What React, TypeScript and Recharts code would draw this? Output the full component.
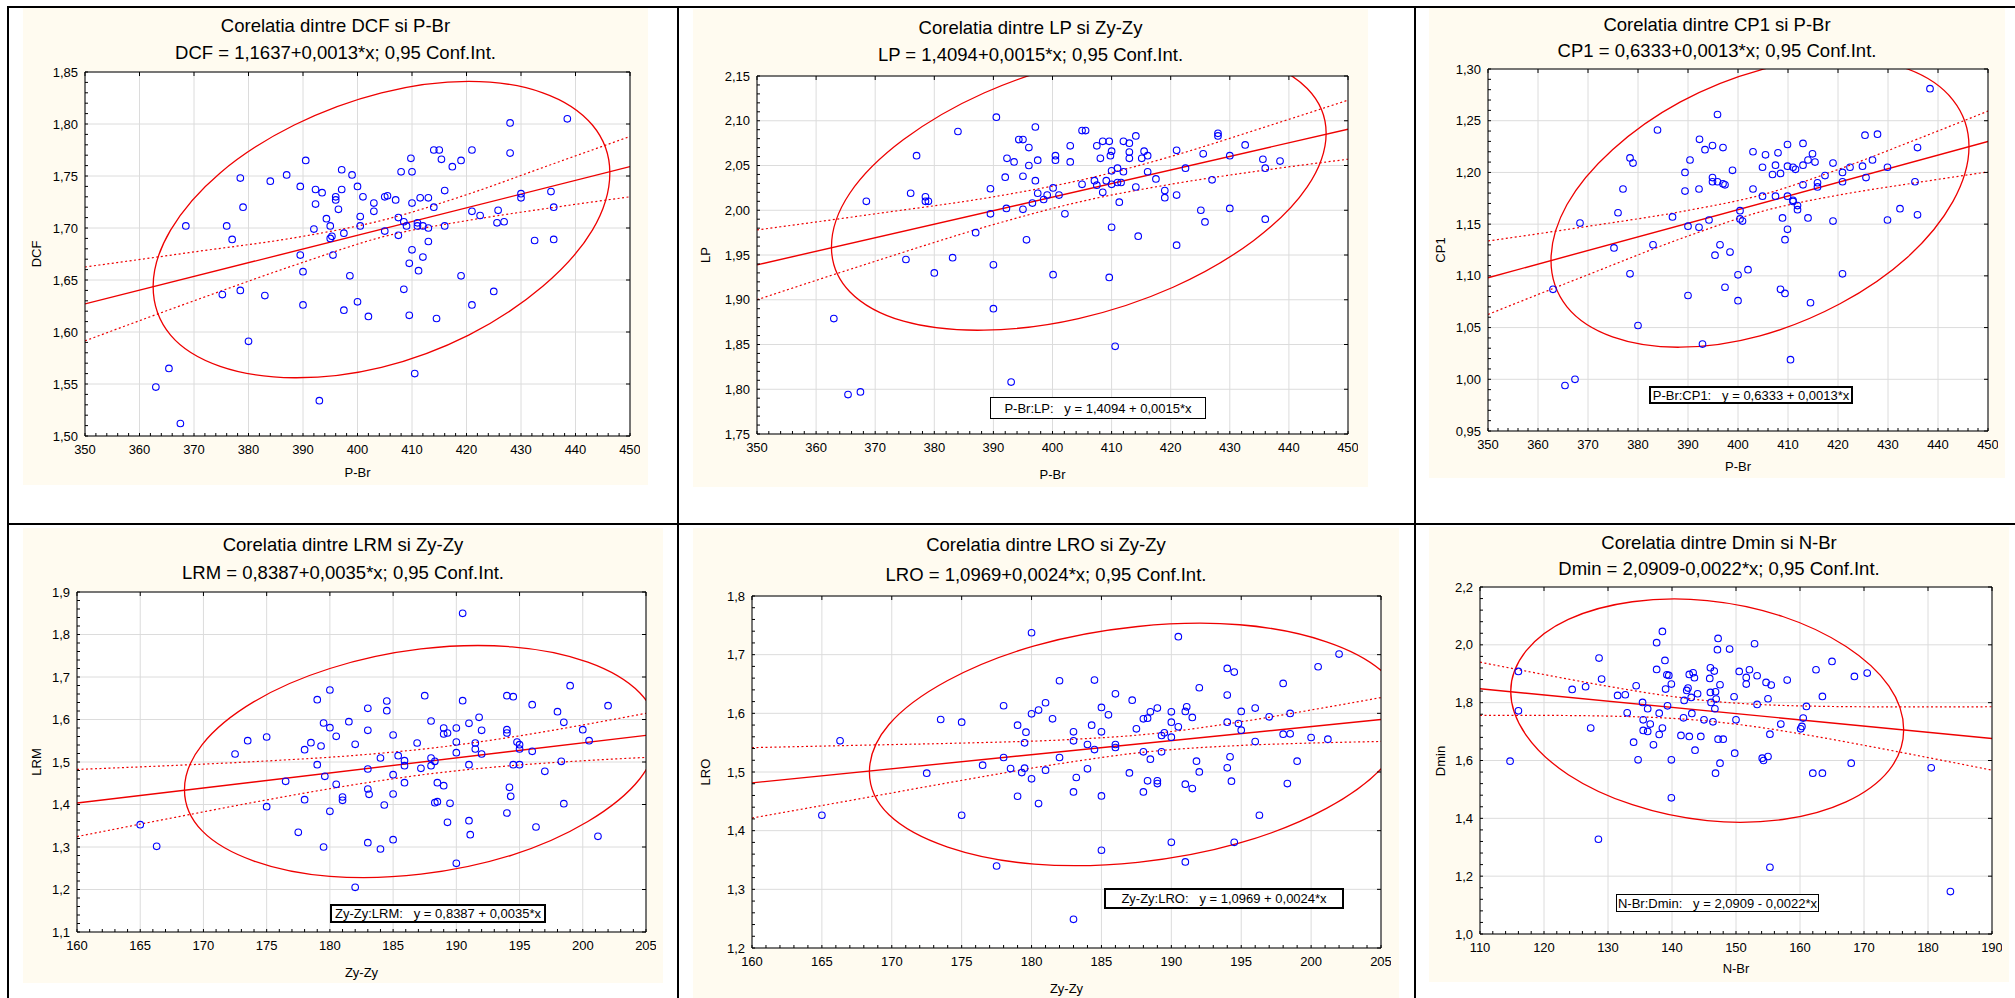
import React from 'react';
import { ComposedChart, XAxis, YAxis, CartesianGrid, Line, Scatter } from 'recharts';

type Pt = [number, number];

// ---- P-Br / DCF ----
const dcfPoints: Pt[] = [
  [363.0, 1.547], [365.4, 1.565], [367.5, 1.512], [368.5, 1.702], [375.2, 1.636], [376.0, 1.702], [377.0, 1.689],
  [378.5, 1.748], [378.5, 1.640], [379.0, 1.720], [380.0, 1.591], [383.0, 1.635], [384.0, 1.745], [387.0, 1.751],
  [389.5, 1.740], [389.5, 1.674], [390.0, 1.658], [390.0, 1.626], [390.5, 1.765], [392.3, 1.737], [392.3, 1.723],
  [392.0, 1.699], [393.5, 1.734], [393.0, 1.534], [394.3, 1.709], [395.0, 1.702], [395.0, 1.690], [395.3, 1.692],
  [395.5, 1.674], [396.0, 1.730], [396.0, 1.727], [396.5, 1.718], [397.1, 1.756], [397.1, 1.737], [397.5, 1.695],
  [397.5, 1.621], [398.6, 1.654], [399.0, 1.751], [400.0, 1.740], [400.0, 1.629], [400.5, 1.711], [400.5, 1.702],
  [401.0, 1.730], [402.0, 1.615], [403.0, 1.724], [403.0, 1.716], [405.0, 1.730], [405.5, 1.731], [405.0, 1.697],
  [407.0, 1.727], [407.5, 1.710], [407.5, 1.693], [408.0, 1.754], [408.5, 1.641], [408.5, 1.706], [409.0, 1.702],
  [409.5, 1.666], [409.5, 1.616], [409.8, 1.767], [410.0, 1.754], [410.0, 1.724], [410.0, 1.679], [410.5, 1.560],
  [411.0, 1.705], [411.0, 1.702], [411.2, 1.659], [411.5, 1.729], [412.0, 1.702], [412.0, 1.672], [413.0, 1.729],
  [413.0, 1.700], [413.0, 1.687], [414.0, 1.775], [414.0, 1.720], [414.5, 1.613], [415.0, 1.775], [415.4, 1.766],
  [416.0, 1.736], [416.0, 1.702], [417.4, 1.759], [419.0, 1.765], [419.0, 1.654], [421.0, 1.775], [421.0, 1.716],
  [421.0, 1.626], [422.5, 1.712], [425.0, 1.639], [425.6, 1.705], [425.8, 1.717], [426.9, 1.706], [428.0, 1.801],
  [428.0, 1.772], [430.0, 1.733], [430.0, 1.729], [432.5, 1.688], [435.5, 1.735], [436.0, 1.720], [436.0, 1.689],
  [438.5, 1.805],
];
const dcfFit: Pt[] = [[350, 1.627], [450, 1.759]];
const dcfUpper: Pt[] = [[350, 1.6625], [370, 1.677], [390, 1.692], [405, 1.708], [420, 1.732], [435, 1.76], [450, 1.788]];
const dcfLower: Pt[] = [[350, 1.5915], [370, 1.63], [390, 1.667], [405, 1.692], [420, 1.707], [435, 1.719], [450, 1.73]];
const dcfEllipse: Pt[] = [
  [446.3, 1.753], [443.1, 1.799], [434.0, 1.830], [420.4, 1.841], [404.4, 1.830], [388.4, 1.799], [374.8, 1.753], [365.7, 1.698],
  [362.5, 1.644], [365.7, 1.597], [374.8, 1.567], [388.4, 1.556], [404.4, 1.566], [420.4, 1.597], [434.0, 1.644], [443.1, 1.698],
];

// ---- P-Br / LP ----
const lpPoints: Pt[] = [
  [363.0, 1.879], [365.4, 1.794], [367.5, 1.797], [368.5, 2.010], [375.2, 1.945], [376.0, 2.019], [377.0, 2.061],
  [378.5, 2.015], [378.5, 2.010], [379.0, 2.010], [380.0, 1.930], [383.1, 1.947], [384.0, 2.088], [387.0, 1.975],
  [389.5, 2.024], [389.5, 1.996], [390.0, 1.939], [390.0, 1.890], [390.5, 2.104], [392.0, 2.037], [392.3, 2.058],
  [392.2, 2.002], [393.5, 2.054], [393.0, 1.808], [394.3, 2.079], [395.0, 2.079], [395.0, 2.038], [395.0, 2.001],
  [395.6, 1.967], [396.0, 2.070], [396.0, 2.050], [396.6, 2.008], [397.1, 2.093], [397.1, 2.033], [397.5, 2.056],
  [397.5, 2.019], [398.5, 2.012], [399.1, 2.017], [400.1, 2.025], [400.5, 2.061], [400.5, 2.056], [400.1, 1.928],
  [401.1, 2.017], [402.1, 1.996], [403.0, 2.072], [403.0, 2.054], [405.0, 2.089], [405.6, 2.089], [405.0, 2.029],
  [407.1, 2.033], [407.5, 2.072], [407.5, 2.028], [408.1, 2.058], [408.5, 2.077], [408.5, 2.020], [409.1, 2.033],
  [409.6, 2.077], [409.6, 1.925], [409.8, 2.061], [410.0, 2.066], [410.0, 2.044], [410.0, 2.029], [410.0, 1.981],
  [410.6, 1.848], [411.0, 2.047], [411.0, 2.031], [411.3, 2.009], [411.6, 2.031], [412.0, 2.077], [412.0, 2.043],
  [413.0, 2.075], [413.0, 2.065], [413.0, 2.058], [414.1, 2.083], [414.1, 2.026], [414.5, 1.971], [415.1, 2.058],
  [415.5, 2.066], [416.1, 2.061], [416.1, 2.043], [417.5, 2.035], [419.0, 2.022], [419.0, 2.014], [421.0, 2.067],
  [421.0, 2.017], [421.0, 1.961], [422.5, 2.047], [425.1, 2.000], [425.5, 2.063], [425.8, 1.987], [427.0, 2.034],
  [428.0, 2.086], [428.0, 2.083], [430.0, 2.061], [430.0, 2.002], [432.6, 2.073], [435.6, 2.057], [436.0, 2.047],
  [436.0, 1.990], [438.5, 2.055],
];
const lpFit: Pt[] = [[350, 1.939], [450, 2.0905]];
const lpUpper: Pt[] = [[350, 1.978], [370, 1.996], [390, 2.015], [405, 2.034], [420, 2.06], [435, 2.091], [450, 2.123]];
const lpLower: Pt[] = [[350, 1.9], [370, 1.943], [390, 1.984], [405, 2.01], [420, 2.029], [435, 2.044], [450, 2.057]];
const lpEllipse: Pt[] = [
  [446.3, 2.086], [443.1, 2.136], [434.0, 2.169], [420.4, 2.180], [404.4, 2.166], [388.4, 2.131], [374.8, 2.079], [365.7, 2.019],
  [362.6, 1.959], [365.7, 1.909], [374.8, 1.876], [388.4, 1.866], [404.4, 1.879], [420.4, 1.914], [434.0, 1.966], [443.1, 2.026],
];

// ---- P-Br / CP1 ----
const cp1Points: Pt[] = [
  [363.0, 1.087], [365.4, 0.994], [367.4, 1.000], [368.4, 1.151], [375.2, 1.127], [376.0, 1.161], [377.0, 1.184],
  [378.4, 1.214], [378.4, 1.102], [379.0, 1.209], [380.0, 1.052], [383.0, 1.130], [383.9, 1.241], [386.9, 1.157],
  [389.4, 1.200], [389.4, 1.182], [390.0, 1.148], [390.0, 1.081], [390.4, 1.212], [392.2, 1.184], [392.2, 1.147],
  [392.3, 1.232], [393.4, 1.222], [392.9, 1.034], [394.2, 1.154], [394.9, 1.226], [394.9, 1.195], [394.9, 1.191],
  [395.4, 1.120], [395.9, 1.256], [395.9, 1.191], [396.4, 1.130], [397.0, 1.224], [397.0, 1.189], [397.4, 1.188],
  [397.4, 1.089], [398.4, 1.123], [398.9, 1.202], [400.0, 1.101], [400.0, 1.076], [400.4, 1.163], [400.4, 1.155],
  [400.9, 1.153], [402.0, 1.106], [403.0, 1.220], [403.0, 1.184], [404.9, 1.205], [404.9, 1.177], [405.5, 1.217],
  [406.9, 1.198], [407.5, 1.207], [407.5, 1.177], [408.0, 1.219], [408.5, 1.199], [408.5, 1.087], [408.9, 1.156],
  [409.4, 1.135], [409.4, 1.083], [409.9, 1.227], [409.9, 1.206], [409.9, 1.177], [409.9, 1.145], [410.5, 1.019],
  [411.0, 1.205], [411.0, 1.173], [411.0, 1.172], [411.5, 1.203], [411.9, 1.168], [411.9, 1.164], [413.0, 1.228],
  [413.0, 1.207], [413.0, 1.188], [414.0, 1.212], [414.0, 1.156], [414.5, 1.074], [414.9, 1.218], [415.4, 1.210],
  [415.9, 1.190], [415.9, 1.186], [417.4, 1.197], [419.0, 1.209], [419.0, 1.153], [420.9, 1.200], [420.9, 1.191],
  [420.9, 1.102], [422.4, 1.205], [424.9, 1.206], [425.4, 1.236], [425.6, 1.195], [426.9, 1.212], [427.9, 1.237],
  [429.9, 1.205], [429.9, 1.154], [432.4, 1.165], [435.4, 1.191], [435.9, 1.224], [435.9, 1.159], [438.4, 1.281],
];
const cp1Fit: Pt[] = [[350, 1.0982], [450, 1.2299]];
const cp1Upper: Pt[] = [[350, 1.1337], [370, 1.1479], [390, 1.1633], [405, 1.1786], [420, 1.2028], [435, 1.2306], [450, 1.2593]];
const cp1Lower: Pt[] = [[350, 1.0627], [370, 1.1011], [390, 1.1385], [405, 1.1626], [420, 1.178], [435, 1.1896], [450, 1.2005]];
const cp1Ellipse: Pt[] = [
  [446.2, 1.225], [443.0, 1.270], [433.9, 1.300], [420.4, 1.310], [404.4, 1.299], [388.4, 1.268], [374.9, 1.222], [365.8, 1.169],
  [362.6, 1.115], [365.8, 1.070], [374.9, 1.041], [388.4, 1.031], [404.4, 1.042], [420.4, 1.073], [433.9, 1.118], [443.0, 1.172],
];

// ---- Zy-Zy / LRM ----
const lrmPoints: Pt[] = [
  [165.0, 1.3525], [166.3, 1.3016], [172.5, 1.5188], [173.5, 1.5502], [175.0, 1.5588], [175.0, 1.3949], [176.5, 1.4545],
  [177.5, 1.3345], [178.0, 1.529], [178.0, 1.4114], [178.5, 1.5455], [179.0, 1.6467], [179.0, 1.4937], [179.3, 1.5376],
  [179.5, 1.5918], [179.5, 1.3], [179.6, 1.4663], [180.0, 1.6694], [180.0, 1.5808], [180.0, 1.3839], [180.5, 1.5604],
  [180.5, 1.4475], [181.0, 1.4176], [181.0, 1.4098], [181.5, 1.5949], [182.0, 1.5416], [182.0, 1.2051], [183.0, 1.6263],
  [183.0, 1.5745], [183.0, 1.4835], [183.0, 1.4365], [183.1, 1.4239], [183.0, 1.3102], [184.0, 1.5094], [184.0, 1.2953],
  [184.3, 1.3988], [184.5, 1.6435], [184.5, 1.6208], [185.0, 1.5635], [185.0, 1.4702], [185.0, 1.4247], [185.0, 1.3173],
  [185.4, 1.5149], [185.9, 1.5031], [185.9, 1.4914], [185.9, 1.4514], [186.9, 1.5447], [187.2, 1.4851], [187.5, 1.6561],
  [188.0, 1.5965], [188.0, 1.5094], [188.0, 1.4914], [188.3, 1.5016], [188.3, 1.4043], [188.5, 1.4067], [188.5, 1.4514],
  [189.0, 1.58], [189.0, 1.5659], [189.0, 1.4443], [189.3, 1.5682], [189.3, 1.358], [189.5, 1.4027], [190.0, 1.58],
  [190.0, 1.5471], [190.0, 1.522], [190.0, 1.2616], [190.5, 1.8498], [190.5, 1.6443], [191.0, 1.591], [191.0, 1.4937],
  [191.0, 1.362], [191.1, 1.329], [191.5, 1.5447], [191.5, 1.5306], [191.8, 1.6051], [192.0, 1.5745], [192.0, 1.5188],
  [194.0, 1.6561], [194.0, 1.5761], [194.0, 1.5682], [194.0, 1.38], [194.2, 1.4404], [194.3, 1.4192], [194.5, 1.6537],
  [194.5, 1.4937], [194.8, 1.5471], [195.0, 1.5306], [195.0, 1.4937], [195.0, 1.5408], [196.0, 1.6349], [196.0, 1.5251],
  [196.3, 1.3471], [197.0, 1.478], [198.0, 1.6184], [198.3, 1.5016], [198.5, 1.5933], [198.5, 1.402], [199.0, 1.6796],
  [200.0, 1.5761], [200.5, 1.5502], [201.2, 1.3251], [202.0, 1.6325],
];
const lrmFit: Pt[] = [[160, 1.4035], [205, 1.5627]];
const lrmUpper: Pt[] = [[160, 1.4825], [167.5, 1.4917], [175, 1.5024], [182, 1.5156], [188.5, 1.5343], [195, 1.5616], [200, 1.5871], [205, 1.6146]];
const lrmLower: Pt[] = [[160, 1.3245], [167.5, 1.3683], [175, 1.4108], [182, 1.447], [188.5, 1.4743], [195, 1.493], [200, 1.5029], [205, 1.5108]];
const lrmEllipse: Pt[] = [
  [205.9, 1.567], [204.5, 1.663], [200.4, 1.735], [194.4, 1.771], [187.2, 1.766], [180.0, 1.720], [174.0, 1.642], [169.9, 1.541],
  [168.5, 1.435], [169.9, 1.338], [174.0, 1.267], [180.0, 1.231], [187.2, 1.236], [194.4, 1.281], [200.4, 1.360], [204.5, 1.460],
];

// ---- Zy-Zy / LRO ----
const lroPoints: Pt[] = [
  [165.0, 1.4263], [166.3, 1.5531], [172.5, 1.498], [173.5, 1.5895], [175.0, 1.585], [175.0, 1.4263], [176.5, 1.5116],
  [177.5, 1.3398], [178.0, 1.6129], [178.0, 1.5247], [178.5, 1.5059], [179.0, 1.5799], [179.0, 1.4587], [179.3, 1.4991],
  [179.5, 1.5065], [179.5, 1.5497], [179.6, 1.5679], [180.0, 1.7374], [180.0, 1.5992], [180.0, 1.4883], [180.5, 1.6055],
  [180.5, 1.4462], [181.0, 1.618], [181.0, 1.5031], [181.5, 1.5907], [182.0, 1.6555], [182.0, 1.5247], [183.0, 1.5685],
  [183.0, 1.5531], [183.0, 1.4661], [183.0, 1.2488], [183.2, 1.4906], [184.0, 1.5469], [184.0, 1.5054], [184.3, 1.5799],
  [184.5, 1.6567], [184.5, 1.5383], [185.0, 1.61], [185.0, 1.5685], [185.0, 1.4593], [185.0, 1.3666], [185.5, 1.5975],
  [186.0, 1.6333], [186.0, 1.5469], [186.0, 1.5418], [187.0, 1.4985], [187.2, 1.6225], [187.5, 1.5736], [188.0, 1.5907],
  [188.0, 1.5344], [188.0, 1.4661], [188.3, 1.5918], [188.3, 1.4849], [188.5, 1.6026], [188.5, 1.5218], [189.0, 1.6089],
  [189.0, 1.4849], [189.0, 1.4803], [189.3, 1.5622], [189.3, 1.5344], [189.5, 1.5668], [190.0, 1.6026], [190.0, 1.585],
  [190.0, 1.5594], [190.0, 1.3802], [190.5, 1.7306], [190.5, 1.577], [191.0, 1.6032], [191.1, 1.6111], [191.0, 1.4792],
  [191.0, 1.3467], [191.5, 1.593], [191.5, 1.4718], [191.8, 1.5184], [192.0, 1.6436], [192.0, 1.5002], [194.0, 1.6766],
  [194.0, 1.6311], [194.0, 1.585], [194.0, 1.5071], [194.2, 1.5258], [194.3, 1.4843], [194.5, 1.6703], [194.5, 1.3802],
  [194.8, 1.5827], [195.0, 1.6032], [195.0, 1.5713], [196.0, 1.6089], [196.0, 1.552], [196.3, 1.4263], [197.0, 1.5941],
  [198.0, 1.651], [198.0, 1.5645], [198.3, 1.4803], [198.5, 1.5998], [198.5, 1.5651], [199.0, 1.5184], [200.0, 1.5588],
  [200.5, 1.6794], [201.2, 1.556], [202.0, 1.701],
];
const lroFit: Pt[] = [[160, 1.4815], [205, 1.5895]];
const lroUpper: Pt[] = [[160, 1.5415], [167.5, 1.5455], [175, 1.5493], [182, 1.5545], [188.5, 1.5649], [195, 1.5857], [200, 1.6057], [205, 1.6269]];
const lroLower: Pt[] = [[160, 1.4215], [167.5, 1.4535], [175, 1.4857], [182, 1.5141], [188.5, 1.5349], [195, 1.5453], [200, 1.5493], [205, 1.5521]];
const lroEllipse: Pt[] = [
  [206.8, 1.594], [205.3, 1.667], [201.1, 1.722], [194.9, 1.751], [187.6, 1.748], [180.2, 1.715], [174.0, 1.656], [169.8, 1.581],
  [168.4, 1.500], [169.8, 1.427], [174.0, 1.372], [180.2, 1.343], [187.6, 1.346], [194.9, 1.379], [201.1, 1.438], [205.3, 1.513],
];

// ---- N-Br / Dmin ----
const dminPoints: Pt[] = [
  [114.7, 1.5977], [116.0, 1.9081], [116.0, 1.7719], [124.4, 1.8458], [126.5, 1.855], [127.3, 1.712], [128.5, 1.3277],
  [128.6, 1.9542], [129.0, 1.8815], [131.5, 1.825], [132.7, 1.8273], [133.0, 1.765], [134.0, 1.6635], [134.4, 1.8585],
  [134.7, 1.6023], [135.4, 1.8008], [135.5, 1.7408], [135.5, 1.7039], [136.2, 1.7004], [136.2, 1.7789], [136.6, 1.7258],
  [137.1, 1.6543], [137.6, 2.0073], [137.6, 1.915], [138.0, 1.7638], [138.0, 1.69], [138.5, 2.0465], [138.5, 1.712],
  [138.9, 1.9462], [139.0, 1.8469], [139.2, 1.8965], [139.3, 1.7892], [139.5, 1.8942], [139.9, 1.8642], [139.9, 1.6023],
  [139.9, 1.4708], [141.4, 1.6866], [141.8, 1.7477], [141.9, 1.8077], [142.3, 1.8423], [142.5, 1.8504], [142.7, 1.8977],
  [142.7, 1.6831], [143.0, 1.8181], [143.1, 1.7627], [143.3, 1.9035], [143.5, 1.8862], [143.6, 1.6358], [144.0, 1.8308],
  [144.5, 1.6831], [145.0, 1.7408], [145.9, 1.8838], [146.0, 1.9208], [146.0, 1.8354], [146.1, 1.8008], [146.4, 1.7338],
  [146.6, 1.9092], [146.7, 1.7789], [146.9, 1.8123], [146.8, 1.8377], [146.8, 1.5562], [147.1, 1.9831], [147.2, 2.0223],
  [147.2, 1.6739], [147.5, 1.8619], [147.5, 1.5908], [148.0, 1.6739], [149.0, 1.9854], [149.7, 1.8204], [149.8, 1.6254],
  [150.0, 1.7408], [150.5, 1.9081], [151.6, 1.8873], [151.6, 1.8642], [152.1, 1.9139], [152.9, 2.0038], [153.3, 1.7938],
  [153.3, 1.8931], [154.1, 1.6081], [154.3, 1.6], [154.7, 1.87], [155.0, 1.8135], [155.0, 1.6139], [155.3, 1.6912],
  [155.3, 1.2308], [155.5, 1.8608], [157.0, 1.7258], [158.0, 1.8781], [160.1, 1.7096], [160.3, 1.7177], [160.5, 1.7466],
  [161.0, 1.7869], [162.0, 1.5562], [162.5, 1.9139], [163.5, 1.8215], [163.5, 1.5562], [165.0, 1.9427], [168.0, 1.5908],
  [168.5, 1.8908], [170.5, 1.9023], [180.5, 1.5746], [183.5, 1.1466],
];
const dminFit: Pt[] = [[110, 1.8481], [190, 1.6762]];
const dminUpper: Pt[] = [[110, 1.94], [120, 1.8973], [130, 1.8566], [138, 1.8277], [146, 1.8057], [154, 1.7933], [162, 1.7879], [170, 1.7858], [180, 1.7853], [190, 1.7859]];
const dminLower: Pt[] = [[110, 1.756], [120, 1.7559], [130, 1.7536], [138, 1.7481], [146, 1.7357], [154, 1.7137], [162, 1.6849], [170, 1.6526], [180, 1.6101], [190, 1.5665]];
const dminEllipse: Pt[] = [
  [176.2, 1.706], [173.9, 1.857], [167.2, 1.994], [157.3, 2.098], [145.5, 2.153], [133.8, 2.149], [123.8, 2.088], [117.2, 1.979],
  [114.8, 1.839], [117.2, 1.688], [123.8, 1.551], [133.8, 1.447], [145.5, 1.392], [157.3, 1.396], [167.2, 1.457], [173.9, 1.566],
];

// tick labels
const pBrTicks = [350, 360, 370, 380, 390, 400, 410, 420, 430, 440, 450];
const zyTicks = [160, 165, 170, 175, 180, 185, 190, 195, 200, 205];
const nBrTicks = [110, 120, 130, 140, 150, 160, 170, 180, 190];
const dcfTicks = [1.5, 1.55, 1.6, 1.65, 1.7, 1.75, 1.8, 1.85];
const lpTicks = [1.75, 1.8, 1.85, 1.9, 1.95, 2.0, 2.05, 2.1, 2.15];
const cp1Ticks = [0.95, 1.0, 1.05, 1.1, 1.15, 1.2, 1.25, 1.3];
const lrmTicks = [1.1, 1.2, 1.3, 1.4, 1.5, 1.6, 1.7, 1.8, 1.9];
const lroTicks = [1.2, 1.3, 1.4, 1.5, 1.6, 1.7, 1.8];
const dminTicks = [1.0, 1.2, 1.4, 1.6, 1.8, 2.0, 2.2];

const FONT = '"Liberation Sans", Arial, Helvetica, sans-serif';
const RED = '#ee0000';
const BLUE = '#0000ff';
const CREAM = '#fffbf0';

type Rect = { left: number; top: number; right: number; bottom: number };
interface PanelCfg {
  title: string; subtitle: string; xLabel: string; yLabel: string;
  points: Pt[]; fit: Pt[]; upper: Pt[]; lower: Pt[]; ellipse: Pt[];
  xTicks: number[]; yTicks: number[]; yDigits: number;
  box: Rect; plot: Rect; titleY: number; subY: number; xLabelY: number; yLabelX: number;
  legend?: { text: string; rect: Rect; border: number };
}

const panels: PanelCfg[] = [
  {
    title: 'Corelatia dintre DCF si P-Br', subtitle: 'DCF = 1,1637+0,0013*x; 0,95 Conf.Int.', xLabel: 'P-Br', yLabel: 'DCF',
    points: dcfPoints, fit: dcfFit, upper: dcfUpper, lower: dcfLower, ellipse: dcfEllipse,
    xTicks: pBrTicks, yTicks: dcfTicks, yDigits: 2,
    box: { left: 23, top: 8, right: 648, bottom: 485 }, plot: { left: 85, top: 72, right: 630, bottom: 436 },
    titleY: 26, subY: 53, xLabelY: 473, yLabelX: 37,
  },
  {
    title: 'Corelatia dintre LP si Zy-Zy', subtitle: 'LP = 1,4094+0,0015*x; 0,95 Conf.Int.', xLabel: 'P-Br', yLabel: 'LP',
    points: lpPoints, fit: lpFit, upper: lpUpper, lower: lpLower, ellipse: lpEllipse,
    xTicks: pBrTicks, yTicks: lpTicks, yDigits: 2,
    box: { left: 693, top: 9, right: 1368, bottom: 487 }, plot: { left: 757, top: 76, right: 1348, bottom: 434 },
    titleY: 28, subY: 55, xLabelY: 475, yLabelX: 706,
    legend: { text: 'P-Br:LP:   y = 1,4094 + 0,0015*x', rect: { left: 990, top: 397, right: 1206, bottom: 419 }, border: 1 },
  },
  {
    title: 'Corelatia dintre CP1 si P-Br', subtitle: 'CP1 = 0,6333+0,0013*x; 0,95 Conf.Int.', xLabel: 'P-Br', yLabel: 'CP1',
    points: cp1Points, fit: cp1Fit, upper: cp1Upper, lower: cp1Lower, ellipse: cp1Ellipse,
    xTicks: pBrTicks, yTicks: cp1Ticks, yDigits: 2,
    box: { left: 1429, top: 8, right: 2005, bottom: 478 }, plot: { left: 1488, top: 69, right: 1988, bottom: 431 },
    titleY: 25, subY: 51, xLabelY: 467, yLabelX: 1441,
    legend: { text: 'P-Br:CP1:   y = 0,6333 + 0,0013*x', rect: { left: 1649, top: 386, right: 1853, bottom: 404 }, border: 2 },
  },
  {
    title: 'Corelatia dintre LRM si Zy-Zy', subtitle: 'LRM = 0,8387+0,0035*x; 0,95 Conf.Int.', xLabel: 'Zy-Zy', yLabel: 'LRM',
    points: lrmPoints, fit: lrmFit, upper: lrmUpper, lower: lrmLower, ellipse: lrmEllipse,
    xTicks: zyTicks, yTicks: lrmTicks, yDigits: 1,
    box: { left: 23, top: 528, right: 663, bottom: 983 }, plot: { left: 77, top: 592, right: 646, bottom: 932 },
    titleY: 545, subY: 573, xLabelY: 973, yLabelX: 37,
    legend: { text: 'Zy-Zy:LRM:   y = 0,8387 + 0,0035*x', rect: { left: 330, top: 904, right: 546, bottom: 923 }, border: 2 },
  },
  {
    title: 'Corelatia dintre LRO si Zy-Zy', subtitle: 'LRO = 1,0969+0,0024*x; 0,95 Conf.Int.', xLabel: 'Zy-Zy', yLabel: 'LRO',
    points: lroPoints, fit: lroFit, upper: lroUpper, lower: lroLower, ellipse: lroEllipse,
    xTicks: zyTicks, yTicks: lroTicks, yDigits: 1,
    box: { left: 693, top: 528, right: 1399, bottom: 998 }, plot: { left: 752, top: 596, right: 1381, bottom: 948 },
    titleY: 545, subY: 575, xLabelY: 989, yLabelX: 706,
    legend: { text: 'Zy-Zy:LRO:   y = 1,0969 + 0,0024*x', rect: { left: 1104, top: 888, right: 1344, bottom: 909 }, border: 2 },
  },
  {
    title: 'Corelatia dintre Dmin si N-Br', subtitle: 'Dmin = 2,0909-0,0022*x; 0,95 Conf.Int.', xLabel: 'N-Br', yLabel: 'Dmin',
    points: dminPoints, fit: dminFit, upper: dminUpper, lower: dminLower, ellipse: dminEllipse,
    xTicks: nBrTicks, yTicks: dminTicks, yDigits: 1,
    box: { left: 1429, top: 527, right: 2009, bottom: 982 }, plot: { left: 1480, top: 587, right: 1992, bottom: 934 },
    titleY: 543, subY: 569, xLabelY: 969, yLabelX: 1441,
    legend: { text: 'N-Br:Dmin:   y = 2,0909 - 0,0022*x', rect: { left: 1616, top: 894, right: 1819, bottom: 912 }, border: 1 },
  },
];

const rows = (pts: Pt[]) => pts.map(([x, y]) => ({ x, y }));

// minor tick positions: each major interval split in 5
const withMinor = (ticks: number[], parts = 5) => {
  const out: number[] = [];
  for (let i = 0; i < ticks.length - 1; i++) {
    for (let k = 0; k < parts; k++) out.push(+(ticks[i] + ((ticks[i + 1] - ticks[i]) * k) / parts).toFixed(6));
  }
  out.push(ticks[ticks.length - 1]);
  return out;
};
const isMajor = (list: number[], v: number) => list.some((m) => Math.abs(m - v) < 1e-6);

// closed Catmull-Rom curve for the ellipses
const closedCurve = (context: any) => {
  let pts: number[][] = [];
  return {
    areaStart() {},
    areaEnd() {},
    lineStart() { pts = []; },
    point(x: number, y: number) { pts.push([+x, +y]); },
    lineEnd() {
      const n = pts.length;
      if (n < 3) return;
      context.moveTo(pts[0][0], pts[0][1]);
      for (let i = 0; i < n; i++) {
        const p0 = pts[(i + n - 1) % n], p1 = pts[i], p2 = pts[(i + 1) % n], p3 = pts[(i + 2) % n];
        context.bezierCurveTo(
          p1[0] + (p2[0] - p0[0]) / 6, p1[1] + (p2[1] - p0[1]) / 6,
          p2[0] - (p3[0] - p1[0]) / 6, p2[1] - (p3[1] - p1[1]) / 6,
          p2[0], p2[1],
        );
      }
      context.closePath();
    },
  };
};

const Ring = (p: any) => <circle cx={p.cx} cy={p.cy} r={3.3} fill="none" stroke={BLUE} strokeWidth={1.1} />;

const abs = (r: Rect): React.CSSProperties => ({
  position: 'absolute', left: r.left, top: r.top, width: r.right - r.left, height: r.bottom - r.top,
});

const Panel = ({ c }: { c: PanelCfg }) => {
  const L = 60, T = 10, R = 10, B = 30;
  const pw = c.plot.right - c.plot.left;
  const ph = c.plot.bottom - c.plot.top;
  const xDom: [number, number] = [c.xTicks[0], c.xTicks[c.xTicks.length - 1]];
  const yDom: [number, number] = [c.yTicks[0], c.yTicks[c.yTicks.length - 1]];
  const tickStyle = { fontSize: 13, fill: '#000', fontFamily: FONT };
  const cx = (c.box.left + c.box.right) / 2;
  const plotCx = (c.plot.left + c.plot.right) / 2;
  const plotCy = (c.plot.top + c.plot.bottom) / 2;
  const textLine = (y: number, x: number, size: number): React.CSSProperties => ({
    position: 'absolute', left: x - 300, width: 600, top: y - 11, height: 22, lineHeight: '22px',
    textAlign: 'center', fontSize: size, fontFamily: FONT, color: '#000', whiteSpace: 'nowrap',
  });
  const lineProps = { xAxisId: 'b', yAxisId: 'l', dataKey: 'y', dot: false, activeDot: false, isAnimationActive: false, stroke: RED };

  return (
    <>
      <div style={{ ...abs(c.box), background: CREAM }} />
      <div style={textLine(c.titleY, cx, 18.5)}>{c.title}</div>
      <div style={textLine(c.subY, cx, 18.5)}>{c.subtitle}</div>
      <div style={textLine(c.xLabelY, plotCx, 13)}>{c.xLabel}</div>
      <div style={{ ...textLine(plotCy, c.yLabelX, 13), transform: 'rotate(-90deg)' }}>{c.yLabel}</div>
      <div style={{ position: 'absolute', left: c.plot.left - L, top: c.plot.top - T }}>
        <ComposedChart width={pw + L + R} height={ph + T + B} margin={{ top: 9, right: 9, bottom: 0, left: 0 }}>
          <CartesianGrid xAxisId="t" yAxisId="r" stroke="#dcdcdc" fill="#ffffff" />
          <XAxis
            xAxisId="b" dataKey="x" type="number" domain={xDom} ticks={withMinor(c.xTicks)} interval={0}
            allowDataOverflow height={B} tickSize={-3} tickMargin={12} stroke="#000" tick={tickStyle}
            tickFormatter={(v: number) => (isMajor(c.xTicks, v) ? String(v) : '')}
          />
          <XAxis
            xAxisId="t" orientation="top" dataKey="x" type="number" domain={xDom} ticks={c.xTicks} interval={0}
            allowDataOverflow height={1} tickSize={-4} stroke="#000" tickFormatter={() => ''}
          />
          <YAxis
            yAxisId="l" dataKey="y" type="number" domain={yDom} ticks={withMinor(c.yTicks)} interval={0}
            allowDataOverflow width={L} tickSize={-3} tickMargin={10} stroke="#000" tick={tickStyle}
            tickFormatter={(v: number) => (isMajor(c.yTicks, v) ? v.toFixed(c.yDigits).replace('.', ',') : '')}
          />
          <YAxis
            yAxisId="r" orientation="right" dataKey="y" type="number" domain={yDom} ticks={c.yTicks} interval={0}
            allowDataOverflow width={1} tickSize={-4} stroke="#000" tickFormatter={() => ''}
          />
          <Line {...lineProps} data={rows(c.ellipse)} type={closedCurve as any} strokeWidth={1.3} />
          <Line {...lineProps} data={rows(c.upper)} type="monotone" strokeWidth={1.2} strokeDasharray="2 2.5" />
          <Line {...lineProps} data={rows(c.lower)} type="monotone" strokeWidth={1.2} strokeDasharray="2 2.5" />
          <Line {...lineProps} data={rows(c.fit)} type="linear" strokeWidth={1.4} />
          <Scatter xAxisId="b" yAxisId="l" data={rows(c.points)} dataKey="y" shape={Ring} isAnimationActive={false} />
        </ComposedChart>
      </div>
      {c.legend && (
        <div
          style={{
            ...abs(c.legend.rect), boxSizing: 'border-box', border: `${c.legend.border}px solid #000`, background: '#fff',
            fontSize: 13, fontFamily: FONT, color: '#000', whiteSpace: 'pre', display: 'flex',
            alignItems: 'center', justifyContent: 'center',
          }}
        >
          {c.legend.text}
        </div>
      )}
    </>
  );
};

export default function App() {
  const bar = (left: number, top: number, width: number, height: number) => (
    <div style={{ position: 'absolute', left, top, width, height, background: '#000' }} />
  );
  return (
    <div style={{ position: 'absolute', left: 0, top: 0, width: 2015, height: 998, background: '#fff', overflow: 'hidden' }}>
      {panels.map((c, i) => <Panel key={i} c={c} />)}
      {bar(7, 6, 2008, 2)}
      {bar(7, 523, 2008, 2)}
      {bar(7, 6, 2, 992)}
      {bar(677, 6, 2, 992)}
      {bar(1414, 6, 2, 992)}
    </div>
  );
}
